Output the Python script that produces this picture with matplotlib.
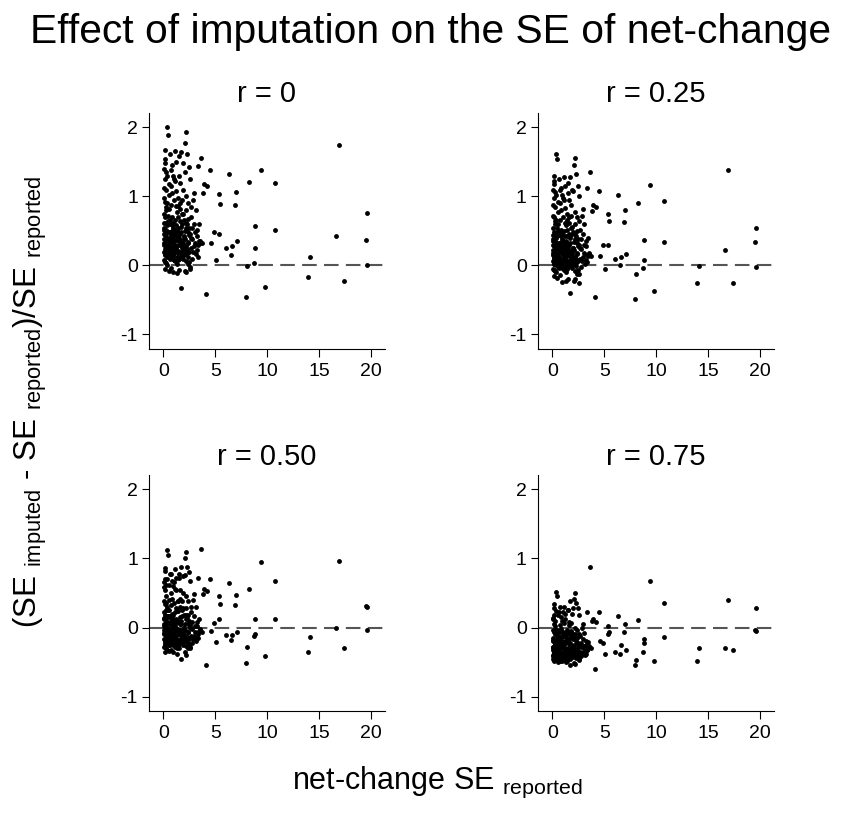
import matplotlib
matplotlib.use('Agg')
import matplotlib.pyplot as plt

plt.rcParams['font.family'] = ['Liberation Sans', 'DejaVu Sans']
plt.rcParams['mathtext.fontset'] = 'custom'
plt.rcParams['mathtext.rm'] = 'Liberation Sans'
plt.rcParams['mathtext.it'] = 'Liberation Sans'

# net-change SE (reported), shared by all four panels
x_se = [
    0.12, 0.20, 0.35, 0.45, 0.08, 0.15, 0.28, 0.05, 0.40, 0.55,
    0.10, 0.18, 0.25, 0.32, 0.08, 0.48, 0.14, 0.22, 0.38, 0.06,
    0.30, 0.12, 0.42, 0.20, 0.55, 0.09, 0.26, 0.35, 0.16, 0.50,
    0.65, 0.80, 0.95, 1.10, 1.25, 0.70, 0.88, 1.02, 1.18, 1.35,
    0.62, 0.75, 0.90, 1.05, 1.20, 1.40, 0.68, 0.85, 1.00, 1.15,
    1.30, 1.45, 0.72, 0.92, 1.08, 1.28, 0.78, 1.48, 1.38, 0.98,
    1.55, 1.75, 2.15, 2.05, 1.90, 2.30, 2.45, 1.65, 1.85, 2.20,
    2.40, 1.60, 1.80, 2.00, 2.25, 2.50, 1.70, 1.95, 2.10, 2.35,
    1.58, 1.78, 2.02, 2.28, 1.68, 1.92, 2.18, 2.42, 1.72, 2.08,
    2.60, 2.85, 3.10, 2.70, 3.00, 3.25, 2.55, 2.80, 3.05, 3.35,
    2.65, 2.90, 3.15, 3.45, 2.75, 2.95, 3.30, 2.58, 3.20, 3.50,
    0.10, 0.22, 0.33, 0.46, 0.58, 0.04, 0.27, 0.38, 0.52, 0.17,
    0.63, 0.74, 0.86, 0.97, 1.12, 1.22, 1.33, 1.42, 0.82, 1.05,
    1.52, 1.63, 1.74, 1.86, 1.97, 2.12, 2.22, 2.33, 2.44, 2.52,
    0.07, 0.13, 0.24, 0.31, 0.44, 0.57, 0.66, 0.77, 0.93, 1.16,
    1.27, 1.37, 1.47, 1.57, 1.67, 1.82, 1.99, 2.14, 2.38, 2.48,
    2.62, 2.78, 2.92, 3.08, 3.22, 3.40, 1.28, 2.14, 0.95, 2.56,
    0.03, 0.11, 0.19, 0.29, 0.37, 0.47, 0.53, 0.61, 0.69, 0.79,
    0.87, 0.96, 1.04, 1.13, 1.21, 1.31, 1.41, 1.51, 1.61, 1.71,
    1.81, 1.91, 2.01, 2.11, 2.21, 2.31, 2.41, 0.06, 0.16, 0.26,
    0.36, 0.46, 0.56, 0.67, 0.76, 0.84, 0.94, 1.03, 1.14, 1.24,
    1.34, 1.44, 1.54, 1.64, 1.76, 1.88, 2.04, 2.19, 2.36, 2.66,
    0.09, 0.21, 0.34, 0.49, 0.60, 0.73, 0.89, 1.07, 1.19, 1.46,
    16.90, 19.60, 19.55, 19.60, 16.60, 17.40, 14.15, 13.90, 10.75, 10.75,
    9.75, 9.42, 8.82, 8.85, 8.72, 8.05, 7.96, 8.24, 7.03, 6.87,
    6.29, 7.12, 6.65, 6.07, 6.52, 5.34, 5.43, 4.92, 5.34, 5.11,
    4.15, 4.47, 3.64, 3.35, 3.90, 4.22, 3.83, 4.57, 3.70, 3.50,
]

y_r0 = [
    1.68, 1.55, 2.01, 1.89, 1.40, 1.25, 1.10, 0.98, 0.90, 0.82,
    0.75, 0.70, 0.62, 0.58, 0.52, 0.48, 0.44, 0.40, 0.36, 0.32,
    0.28, 0.24, 0.20, 0.16, 0.12, 0.08, 0.04, 0.00, -0.05, -0.08,
    1.62, 1.45, 1.30, 1.66, 1.50, 1.15, 1.05, 0.95, 0.86, 0.78,
    0.66, 0.60, 0.55, 0.50, 0.46, 0.42, 0.38, 0.34, 0.30, 0.26,
    0.22, 0.18, 0.14, 0.10, 0.06, 0.02, -0.04, -0.06, 0.55, 0.45,
    1.58, 1.64, 1.93, 1.77, 1.48, 1.62, 1.42, 1.20, 1.10, 1.00,
    0.90, 0.82, 0.74, 0.66, 0.60, 0.54, 0.48, 0.42, 0.38, 0.34,
    0.30, 0.26, 0.22, 0.18, 0.14, 0.10, 0.06, 0.02, -0.32, -0.08,
    1.25, 0.95, 0.80, 0.70, 0.60, 0.52, 0.45, 0.38, 0.33, 0.30,
    0.25, 0.20, 0.16, 0.35, 0.10, 1.05, 0.12, -0.02, 0.42, 0.32,
    0.45, 0.52, 0.28, 0.18, 0.36, 0.62, 0.80, 0.12, 0.25, 0.05,
    0.40, 0.22, 0.50, 0.16, 0.35, 0.58, 0.12, 0.30, 0.70, 0.08,
    0.40, 0.20, 0.56, 0.32, 0.15, 0.50, 0.28, 0.12, 0.44, 0.20,
    0.20, 0.92, 1.35, 0.15, 0.65, 1.02, 0.28, 0.88, 0.20, 1.22,
    0.38, 0.98, 0.10, 0.64, 0.36, 0.95, 0.26, 0.80, 0.68, 0.05,
    0.85, 0.55, 0.28, 0.48, 0.22, 0.60, -0.11, -0.09, -0.10, -0.05,
    0.30, 0.55, 0.15, 0.42, 0.22, 0.60, 0.33, 0.10, 0.48, 0.25,
    0.38, 0.62, 0.18, 0.44, 0.28, 0.52, 0.08, 0.35, 0.46, 0.20,
    0.60, 0.30, 0.40, 0.16, 0.55, 0.24, 0.32, 1.12, 1.48, 0.85,
    1.30, 0.72, 1.18, 0.48, 1.38, 0.58, 0.40, 1.25, 0.66, 1.08,
    0.50, 0.70, 1.30, 0.90, 0.36, 0.75, 1.35, 0.62, 0.48, 0.40,
    0.38, 0.26, 0.48, 0.34, 0.20, 0.44, 0.14, 0.52, 0.24, 0.86,
    1.75, 0.76, 0.37, 0.00, 0.42, -0.23, 0.12, -0.16, 1.19, 0.51,
    -0.31, 1.38, 0.57, 0.25, 0.03, -0.01, -0.46, 1.21, 1.07, 0.87,
    1.33, 0.35, 0.28, 0.26, 0.15, 1.04, 0.89, 0.49, 0.46, 0.08,
    -0.41, 1.39, 1.56, 1.44, 1.18, 1.15, 1.05, 0.33, 0.32, 0.36,
]

y_r25 = [
    1.30, 1.22, 1.62, 1.55, 1.10, 0.98, 0.85, 0.72, 0.66, 0.60,
    0.55, 0.48, 0.45, 0.40, 0.35, 0.30, 0.28, 0.25, 0.20, 0.18,
    0.12, 0.10, 0.05, 0.02, -0.02, -0.05, -0.08, -0.10, -0.15, -0.18,
    1.25, 1.12, 1.02, 1.28, 1.15, 0.90, 0.80, 0.70, 0.62, 0.58,
    0.50, 0.44, 0.38, 0.32, 0.30, 0.26, 0.22, 0.18, 0.15, 0.11,
    0.08, 0.04, 0.01, -0.03, -0.06, -0.10, -0.14, -0.20, 0.42, 0.28,
    1.20, 1.28, 1.56, 1.45, 1.10, 1.32, 1.15, 0.95, 0.88, 0.78,
    0.70, 0.62, 0.55, 0.48, 0.42, 0.38, 0.32, 0.26, 0.22, 0.18,
    0.14, 0.10, 0.06, 0.03, 0.00, -0.04, -0.08, -0.12, -0.40, -0.22,
    1.00, 0.72, 0.60, 0.52, 0.45, 0.36, 0.30, 0.24, 0.18, 0.15,
    0.10, 0.06, 0.02, 0.14, -0.02, 0.82, 0.05, -0.12, 0.28, 0.16,
    0.30, 0.36, 0.14, 0.05, 0.22, 0.44, 0.60, 0.00, 0.12, -0.06,
    0.24, 0.08, 0.34, 0.04, 0.20, 0.42, -0.01, 0.16, 0.52, -0.04,
    0.25, 0.06, 0.40, 0.18, 0.02, 0.34, 0.13, -0.01, 0.28, 0.07,
    0.06, 0.70, 1.06, 0.02, 0.48, 0.78, 0.12, 0.66, 0.05, 0.95,
    0.22, 0.74, -0.02, 0.46, 0.20, 0.72, 0.11, 0.60, 0.50, -0.07,
    0.64, 0.38, 0.12, 0.30, 0.08, 0.40, -0.22, -0.20, -0.24, -0.26,
    0.15, 0.38, 0.02, 0.26, 0.08, 0.42, 0.18, -0.04, 0.32, 0.10,
    0.22, 0.45, 0.05, 0.28, 0.13, 0.36, -0.05, 0.20, 0.30, 0.06,
    0.44, 0.15, 0.25, 0.03, 0.38, 0.09, 0.17, 0.88, 1.18, 0.64,
    1.02, 0.54, 0.92, 0.32, 1.10, 0.42, 0.25, 0.98, 0.50, 0.84,
    0.34, 0.52, 1.05, 0.70, 0.21, 0.56, 1.08, 0.45, 0.32, 0.25,
    0.22, 0.11, 0.32, 0.19, 0.06, 0.28, 0.01, 0.36, 0.10, 0.66,
    1.38, 0.55, 0.34, -0.02, 0.23, -0.26, -0.01, -0.25, 0.94, 0.34,
    -0.37, 1.16, 0.37, 0.08, -0.04, -0.13, -0.49, 0.91, 0.80, 0.63,
    1.02, 0.16, 0.12, 0.10, 0.00, 0.75, 0.65, 0.29, 0.29, -0.05,
    -0.46, 1.08, 1.36, 1.12, 0.88, 0.85, 0.79, 0.14, 0.14, 0.18,
]

y_r50 = [
    0.82, 0.70, 1.12, 1.05, 0.66, 0.55, 0.45, 0.38, 0.30, 0.25,
    0.22, 0.18, 0.12, 0.08, 0.05, 0.00, -0.02, -0.05, -0.08, -0.10,
    -0.14, -0.16, -0.20, -0.22, -0.25, -0.28, -0.30, -0.32, -0.35, -0.34,
    0.78, 0.68, 0.60, 0.85, 0.72, 0.50, 0.42, 0.35, 0.28, 0.24,
    0.16, 0.12, 0.06, 0.02, -0.01, -0.04, -0.07, -0.10, -0.12, -0.15,
    -0.18, -0.21, -0.23, -0.26, -0.28, -0.30, -0.33, -0.30, 0.10, 0.00,
    0.78, 0.88, 1.10, 1.00, 0.75, 0.88, 0.80, 0.55, 0.50, 0.45,
    0.38, 0.30, 0.25, 0.18, 0.14, 0.10, 0.05, 0.00, -0.04, -0.07,
    -0.10, -0.13, -0.16, -0.19, -0.22, -0.25, -0.27, -0.29, -0.45, -0.36,
    0.68, 0.40, 0.30, 0.22, 0.16, 0.08, 0.04, -0.02, -0.06, -0.09,
    -0.12, -0.16, -0.19, -0.05, -0.22, 0.48, -0.15, -0.28, 0.02, -0.04,
    0.02, 0.06, -0.12, -0.18, -0.06, 0.14, 0.26, -0.22, -0.14, -0.26,
    -0.04, -0.16, 0.04, -0.20, -0.07, 0.12, -0.23, -0.10, 0.20, -0.26,
    -0.03, -0.17, 0.10, -0.09, -0.20, 0.05, -0.12, -0.22, 0.01, -0.16,
    -0.17, 0.34, 0.62, -0.20, 0.16, 0.40, -0.12, 0.32, -0.18, 0.56,
    -0.06, 0.38, -0.24, 0.15, -0.08, 0.38, -0.14, 0.28, 0.18, -0.25,
    0.30, 0.08, -0.12, 0.02, -0.15, 0.12, -0.38, -0.40, -0.36, -0.30,
    -0.08, 0.12, -0.20, 0.02, -0.15, 0.16, -0.06, -0.25, 0.06, -0.13,
    -0.03, 0.18, -0.18, 0.04, -0.11, 0.10, -0.27, -0.04, 0.05, -0.16,
    0.16, -0.08, 0.00, -0.19, 0.12, -0.14, -0.07, 0.58, 0.86, 0.36,
    0.70, 0.26, 0.62, 0.06, 0.78, 0.14, 0.00, 0.66, 0.22, 0.55,
    0.08, 0.24, 0.72, 0.42, -0.04, 0.28, 0.76, 0.18, 0.06, 0.00,
    -0.03, -0.12, 0.06, -0.05, -0.17, 0.03, -0.21, 0.10, -0.13, 0.38,
    0.96, 0.30, 0.31, -0.03, 0.00, -0.29, -0.14, -0.36, 0.67, 0.13,
    -0.42, 0.95, 0.13, -0.10, -0.12, -0.28, -0.51, 0.56, 0.47, 0.33,
    0.65, -0.06, -0.11, -0.11, -0.18, 0.45, 0.34, 0.07, 0.12, -0.21,
    -0.54, 0.70, 1.14, 0.72, 0.56, 0.53, 0.48, -0.05, -0.06, -0.02,
]

y_r75 = [
    0.28, 0.18, 0.52, 0.45, 0.12, 0.05, 0.02, -0.04, -0.08, -0.12,
    -0.15, -0.20, -0.22, -0.25, -0.28, -0.30, -0.33, -0.35, -0.38, -0.40,
    -0.42, -0.44, -0.46, -0.48, -0.50, -0.45, -0.42, -0.38, -0.36, -0.33,
    0.22, 0.15, 0.10, 0.30, 0.20, 0.04, -0.02, -0.06, -0.10, -0.14,
    -0.18, -0.20, -0.24, -0.28, -0.30, -0.32, -0.34, -0.37, -0.39, -0.41,
    -0.43, -0.46, -0.40, -0.44, -0.38, -0.35, -0.48, -0.42, -0.20, -0.27,
    0.25, 0.38, 0.50, 0.42, 0.20, 0.35, 0.28, 0.08, 0.06, 0.00,
    -0.04, -0.08, -0.12, -0.16, -0.20, -0.22, -0.26, -0.29, -0.32, -0.35,
    -0.37, -0.40, -0.42, -0.44, -0.46, -0.38, -0.36, -0.33, -0.55, -0.52,
    0.18, 0.00, -0.08, -0.12, -0.16, -0.20, -0.24, -0.28, -0.30, -0.33,
    -0.36, -0.38, -0.40, -0.30, -0.42, 0.05, -0.32, -0.45, -0.25, -0.28,
    -0.30, -0.26, -0.36, -0.40, -0.33, -0.20, -0.10, -0.43, -0.38, -0.44,
    -0.31, -0.40, -0.26, -0.42, -0.34, -0.19, -0.44, -0.36, -0.14, -0.46,
    -0.31, -0.41, -0.22, -0.35, -0.43, -0.25, -0.37, -0.41, -0.28, -0.39,
    -0.41, -0.06, 0.10, -0.45, -0.18, -0.03, -0.38, -0.07, -0.42, 0.06,
    -0.33, -0.04, -0.44, -0.17, -0.34, -0.05, -0.39, -0.09, -0.15, -0.43,
    -0.10, -0.22, -0.36, -0.27, -0.38, -0.21, -0.50, -0.53, -0.49, -0.47,
    -0.33, -0.18, -0.43, -0.25, -0.40, -0.15, -0.31, -0.47, -0.22, -0.37,
    -0.29, -0.13, -0.42, -0.24, -0.36, -0.19, -0.49, -0.30, -0.23, -0.40,
    -0.14, -0.33, -0.27, -0.42, -0.17, -0.38, -0.31, 0.14, 0.34, -0.02,
    0.24, -0.11, 0.18, -0.24, 0.30, -0.16, -0.27, 0.22, -0.13, 0.12,
    -0.22, -0.10, 0.26, 0.03, -0.30, -0.08, 0.28, -0.14, -0.23, -0.27,
    -0.28, -0.37, -0.24, -0.30, -0.42, -0.26, -0.46, -0.21, -0.38, -0.05,
    0.40, 0.28, -0.03, -0.05, -0.29, -0.32, -0.30, -0.48, 0.36, -0.14,
    -0.48, 0.67, -0.17, -0.22, -0.35, -0.47, -0.55, 0.11, 0.05, -0.07,
    0.17, -0.33, -0.26, -0.36, -0.38, 0.02, -0.06, -0.22, -0.10, -0.39,
    -0.60, 0.22, 0.88, 0.23, 0.13, 0.08, 0.10, -0.20, -0.30, -0.27,
]

panel_titles = ['r = 0', 'r = 0.25', 'r = 0.50', 'r = 0.75']
panel_y = [y_r0, y_r25, y_r50, y_r75]
x_ticks = [0, 5, 10, 15, 20]
y_ticks = [-1, 0, 1, 2]
y_ticklabels = ['-1', '0', '1', '2']

fig = plt.figure(figsize=(8.5, 8.15), dpi=100)

# axes boxes in figure fractions: [left, bottom, width, height]
boxes = [
    [0.1753, 0.5718, 0.2776, 0.2896],
    [0.6329, 0.5718, 0.2776, 0.2896],
    [0.1753, 0.1276, 0.2776, 0.2896],
    [0.6329, 0.1276, 0.2776, 0.2896],
]

for i in range(4):
    ax = fig.add_axes(boxes[i])
    ax.plot(x_se, panel_y[i], 'o', color='black', ms=3.5, mew=0, zorder=3)
    ax.axhline(0, color='#555555', lw=1.5, ls=(0, (7, 3.5)), zorder=2)
    ax.set_xlim(-1.38, 21.35)
    ax.set_ylim(-1.21, 2.21)
    ax.set_xticks(x_ticks)
    ax.set_yticks(y_ticks)
    ax.set_yticklabels(y_ticklabels)
    ax.spines['top'].set_visible(False)
    ax.spines['right'].set_visible(False)
    ax.spines['left'].set_linewidth(0.8)
    ax.spines['bottom'].set_linewidth(0.8)
    ax.tick_params(axis='both', labelsize=14, width=0.8, direction='out')
    ax.tick_params(axis='x', length=6, pad=4)
    ax.tick_params(axis='y', length=5, pad=3)
    ax.set_title(panel_titles[i], fontsize=21, pad=8 if i < 2 else 7)

fig.text(0.507, 0.961, 'Effect of imputation on the SE of net-change',
         fontsize=29.3, ha='center', va='center')
fig.text(0.036, 0.507,
         r'(SE $_{\mathrm{imputed}}$ - SE $_{\mathrm{reported}}$)/SE $_{\mathrm{reported}}$',
         fontsize=22.5, rotation=90, ha='center', va='center')
fig.text(0.514, 0.040, r'net-change SE $_{\mathrm{reported}}$',
         fontsize=22, ha='center', va='center')

fig.savefig('out.png', dpi=100, facecolor='white')
